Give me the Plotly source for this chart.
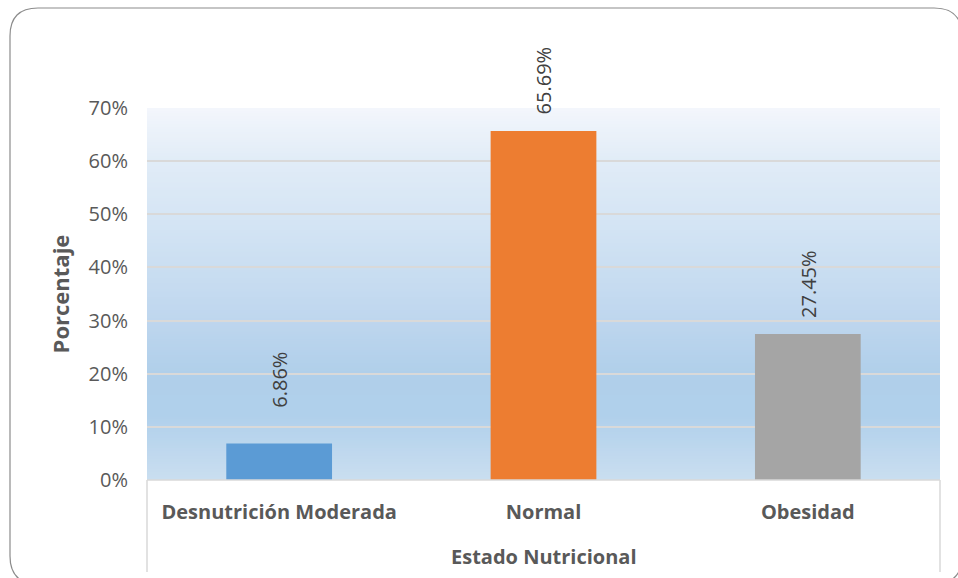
import plotly.graph_objects as go

categorias = ["Desnutrición Moderada", "Normal", "Obesidad"]
porcentajes = [6.86, 65.69, 27.45]
colores = ["#5B9BD5", "#ED7D31", "#A5A5A5"]
ticks_y = [0, 10, 20, 30, 40, 50, 60, 70]

W, H = 958, 578
L, R, T, B = 147, 18, 108, 98
FONT = "Open Sans"
label_gap = [34, 14, 14]  # px between bar top and its rotated label

# background gradient stops (value on y axis, rgb)
grad = [(0, (202, 222, 240)), (12, (176, 208, 235)), (20, (176, 207, 234)),
        (30, (190, 214, 238)), (45, (208, 226, 243)), (60, (225, 236, 247)),
        (70, (243, 246, 252))]


def color_at(v):
    for (a, ca), (b, cb) in zip(grad[:-1], grad[1:]):
        if a <= v <= b:
            t = (v - a) / (b - a)
            c = [round(ca[i] + (cb[i] - ca[i]) * t) for i in range(3)]
            return "rgb(%d,%d,%d)" % tuple(c)
    return "rgb(243,246,252)"


fig = go.Figure()
fig.add_trace(go.Bar(
    x=categorias, y=porcentajes, marker_color=colores, width=0.4,
    marker_line_width=0, hoverinfo="skip"
))

shapes = []
step = 0.5
v = 0.0
while v < 70:
    # bands overlap a little so no seams show
    shapes.append(dict(type="rect", xref="paper", yref="y", x0=0, x1=1, y0=v, y1=min(70, v + step * 2),
                       fillcolor=color_at(v + step / 2), line_width=0, layer="below"))
    v += step

# axis frame lines under the plot (category box)
plot_h = H - T - B
plot_w = W - L - R
ybot = -(572 - (H - B)) / plot_h
for xp in (0, 1):
    shapes.append(dict(type="line", xref="paper", yref="paper", x0=xp, x1=xp, y0=0, y1=ybot,
                       line=dict(color="#D9D9D9", width=1.5)))
shapes.append(dict(type="line", xref="paper", yref="paper", x0=0, x1=1, y0=0, y1=0,
                   line=dict(color="#D9D9D9", width=1.5)))


def px(x):
    return (x - L) / plot_w


def py(y):
    return (H - B - y) / plot_h


# rounded outer border
x0, y0, x1, y1, r = 10, 8, 962, 584, 28
path = ("M %f,%f L %f,%f Q %f,%f %f,%f L %f,%f Q %f,%f %f,%f L %f,%f Q %f,%f %f,%f L %f,%f Q %f,%f %f,%f Z" % (
    px(x0 + r), py(y0), px(x1 - r), py(y0), px(x1), py(y0), px(x1), py(y0 + r),
    px(x1), py(y1 - r), px(x1), py(y1), px(x1 - r), py(y1),
    px(x0 + r), py(y1), px(x0), py(y1), px(x0), py(y1 - r),
    px(x0), py(y0 + r), px(x0), py(y0), px(x0 + r), py(y0)))
shapes.append(dict(type="path", xref="paper", yref="paper", path=path,
                   line=dict(color="#8C8C8C", width=1.2), fillcolor="rgba(0,0,0,0)"))

annotations = []
for c, val, gap in zip(categorias, porcentajes, label_gap):
    annotations.append(dict(x=c, y=val, text="%.2f%%" % val, textangle=-90, showarrow=False,
                            yanchor="bottom", yshift=gap,
                            font=dict(family=FONT, size=20, color="#404040")))
annotations.append(dict(x=0.5, y=py(556), xref="paper", yref="paper", yanchor="middle",
                        text="<b>Estado Nutricional</b>",
                        showarrow=False, font=dict(family=FONT, size=20, color="#595959")))

fig.update_layout(
    width=W, height=H,
    margin=dict(l=L, r=R, t=T, b=B),
    paper_bgcolor="white", plot_bgcolor="rgba(0,0,0,0)",
    showlegend=False,
    shapes=shapes, annotations=annotations,
    xaxis=dict(tickfont=dict(family=FONT, size=20, color="#595959"), showline=False,
               tickprefix="<b>", ticksuffix="</b>", ticks="outside", ticklen=14, tickcolor="rgba(0,0,0,0)"),
    yaxis=dict(range=[0, 70], tickvals=ticks_y, ticktext=["%d%%" % t for t in ticks_y],
               tickfont=dict(family=FONT, size=20, color="#595959"),
               gridcolor="#D9D9D9", gridwidth=1.5, zeroline=False, showline=False,
               ticks="outside", ticklen=14, tickcolor="rgba(0,0,0,0)",
               title=dict(text="<b>Porcentaje</b>", font=dict(family=FONT, size=22, color="#595959"),
                          standoff=12)),
)

fig.write_html("out.html", config={"displayModeBar": False},
               post_script="document.body.style.margin='0';")
